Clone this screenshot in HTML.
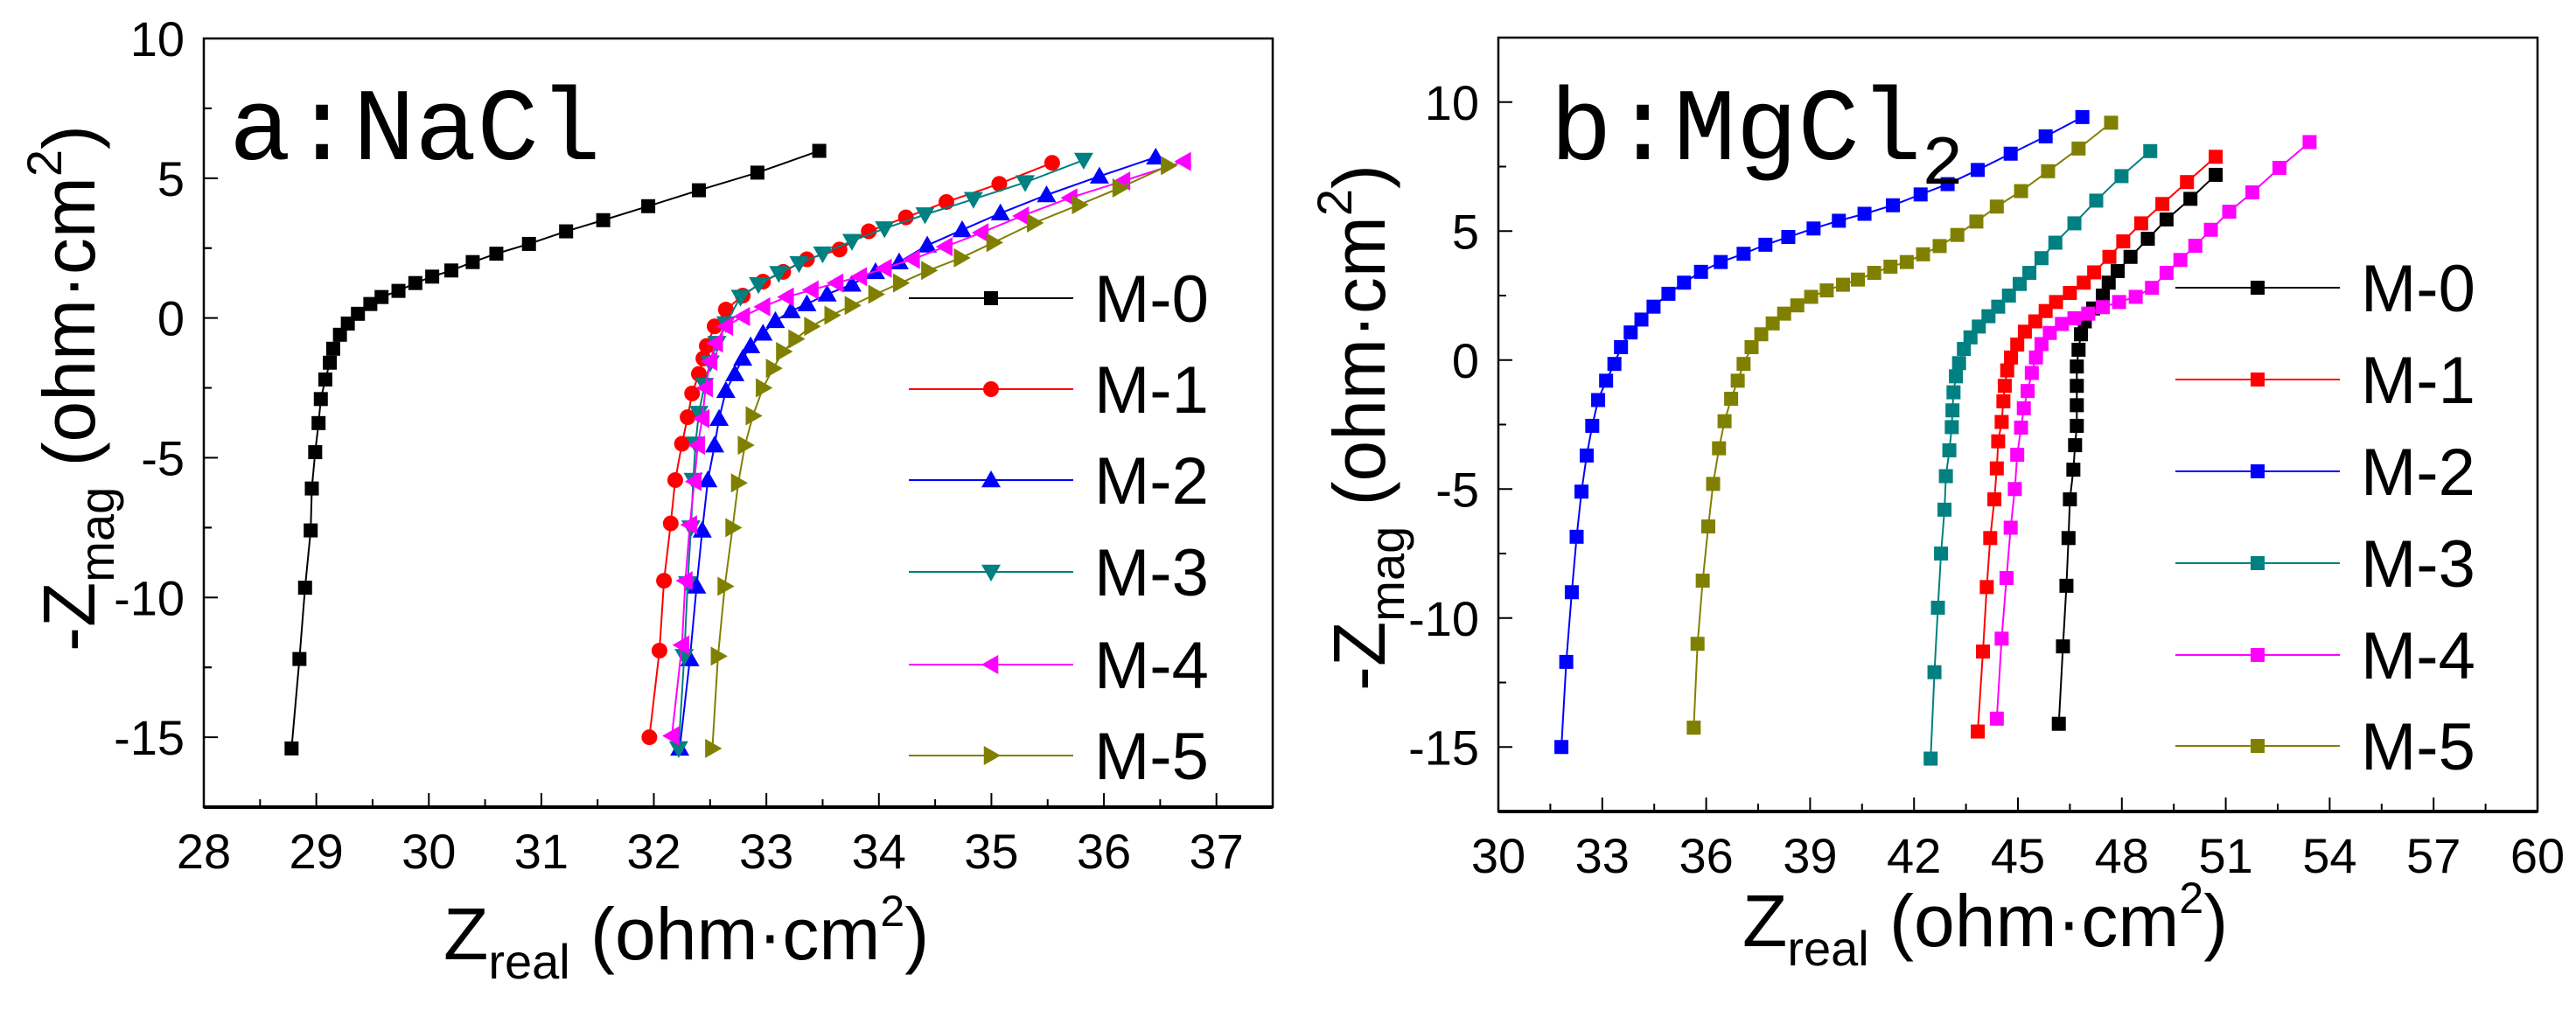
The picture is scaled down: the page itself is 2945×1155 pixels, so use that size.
<!DOCTYPE html>
<html><head><meta charset="utf-8"><style>
html,body{margin:0;padding:0;background:#fff;}
svg text{font-family:"Liberation Sans",Arial,sans-serif;}
</style></head><body>
<svg id="fig" xmlns="http://www.w3.org/2000/svg" width="2945" height="1150" viewBox="0 0 2945 1150">
<g id="pa"></g>
<g id="pb"></g>
</svg>
<script>
// ---- Panel a data (NaCl) ----
const aM0x=[28.78,28.85,28.9,28.95,28.96,28.99,29.02,29.04,29.08,29.12,29.15,29.21,29.28,29.37,29.48,29.58,29.73,29.88,30.03,30.2,30.39,30.6,30.89,31.22,31.55,31.95,32.4,32.92,33.47];
const aM0y=[-15.4,-12.2,-9.65,-7.6,-6.1,-4.8,-3.76,-2.9,-2.2,-1.6,-1.1,-0.6,-0.2,0.15,0.5,0.75,0.97,1.25,1.48,1.7,2.0,2.3,2.65,3.1,3.5,4.0,4.57,5.2,5.98];
const aM1x=[31.96,32.05,32.09,32.15,32.19,32.25,32.3,32.34,32.4,32.44,32.47,32.54,32.64,32.79,32.97,33.15,33.36,33.65,33.91,34.24,34.6,35.07,35.54];
const aM1y=[-15,-11.9,-9.4,-7.35,-5.8,-4.5,-3.55,-2.7,-2.0,-1.45,-1.0,-0.3,0.3,0.8,1.3,1.65,2.1,2.45,3.1,3.6,4.15,4.8,5.55];
const aM2x=[32.23,32.32,32.38,32.43,32.48,32.54,32.58,32.64,32.72,32.79,32.86,32.97,33.08,33.22,33.36,33.54,33.76,33.97,34.18,34.43,34.74,35.08,35.49,35.96,36.46];
const aM2y=[-15.4,-12.2,-9.6,-7.6,-5.8,-4.55,-3.6,-2.6,-2.0,-1.45,-1.0,-0.55,-0.1,0.25,0.5,0.85,1.2,1.65,2.0,2.6,3.15,3.75,4.4,5.07,5.75];
const aM3x=[32.22,32.27,32.3,32.33,32.35,32.37,32.4,32.45,32.5,32.56,32.64,32.77,32.93,33.11,33.29,33.5,33.76,34.05,34.41,34.84,35.3,35.82];
const aM3y=[-15.4,-12.1,-9.5,-7.5,-5.8,-4.5,-3.4,-2.4,-1.6,-0.9,-0.2,0.75,1.2,1.6,1.95,2.3,2.75,3.2,3.7,4.25,4.85,5.65];
const aM4x=[32.16,32.25,32.28,32.32,32.36,32.39,32.43,32.46,32.5,32.55,32.64,32.79,32.97,33.18,33.4,33.62,33.83,34.05,34.3,34.59,34.91,35.27,35.7,36.17,36.71];
const aM4y=[-14.95,-11.7,-9.4,-7.4,-5.85,-4.55,-3.6,-2.5,-1.55,-0.9,-0.3,0.05,0.4,0.75,1.0,1.25,1.48,1.78,2.1,2.55,3.05,3.65,4.3,4.9,5.6];
const aM5x=[32.52,32.57,32.63,32.7,32.75,32.81,32.88,32.97,33.06,33.15,33.26,33.4,33.58,33.76,33.97,34.19,34.44,34.73,35.02,35.38,35.78,36.14,36.57];
const aM5y=[-15.4,-12.1,-9.6,-7.5,-5.9,-4.55,-3.5,-2.5,-1.8,-1.2,-0.75,-0.3,0.1,0.45,0.85,1.25,1.7,2.15,2.7,3.4,4.05,4.65,5.45];
const aXTicks=[28,29,30,31,32,33,34,35,36,37];
const aYTicks=[10,5,0,-5,-10,-15];
// ---- Panel b data (MgCl2) ----
const bM0x=[46.18,46.3,46.4,46.46,46.5,46.6,46.65,46.7,46.7,46.7,46.7,46.75,46.82,46.93,47.17,47.45,47.62,47.88,48.25,48.75,49.29,49.98,50.71];
const bM0y=[-14.1,-11.1,-8.75,-6.9,-5.4,-4.25,-3.3,-2.55,-1.75,-1.0,-0.25,0.4,1.0,1.5,2.0,2.5,3.0,3.45,4.0,4.7,5.45,6.25,7.18];
const bM1x=[43.84,43.99,44.1,44.2,44.32,44.39,44.43,44.53,44.58,44.62,44.69,44.8,44.98,45.2,45.5,45.8,46.1,46.5,46.9,47.2,47.64,48.04,48.56,49.17,49.88,50.71];
const bM1y=[-14.4,-11.3,-8.8,-6.9,-5.4,-4.2,-3.15,-2.4,-1.6,-1.0,-0.4,0.1,0.6,1.1,1.5,1.9,2.25,2.6,3.0,3.4,4.0,4.6,5.3,6.05,6.9,7.88];
const bM2x=[31.82,31.96,32.12,32.26,32.4,32.55,32.71,32.88,33.11,33.35,33.54,33.82,34.13,34.48,34.91,35.36,35.85,36.42,37.08,37.71,38.37,39.1,39.83,40.57,41.39,42.19,42.97,43.84,44.79,45.8,46.86];
const bM2y=[-15,-11.7,-9.0,-6.85,-5.1,-3.7,-2.55,-1.55,-0.8,-0.15,0.5,1.07,1.57,2.07,2.57,3.0,3.42,3.8,4.12,4.47,4.77,5.1,5.4,5.67,6.0,6.42,6.82,7.37,8.0,8.67,9.42];
const bM3x=[42.48,42.59,42.69,42.78,42.88,42.92,43.02,43.09,43.11,43.14,43.21,43.3,43.44,43.63,43.87,44.15,44.43,44.74,45.05,45.33,45.68,46.08,46.63,47.26,47.99,48.82];
const bM3y=[-15.45,-12.1,-9.6,-7.5,-5.8,-4.5,-3.5,-2.6,-1.95,-1.25,-0.63,-0.12,0.43,0.88,1.3,1.7,2.07,2.5,2.95,3.38,3.95,4.55,5.3,6.18,7.13,8.1];
const bM4x=[44.39,44.53,44.67,44.79,44.91,44.98,45.09,45.17,45.28,45.4,45.52,45.68,45.92,46.27,46.63,47.03,47.45,47.92,48.4,48.87,49.29,49.69,50.12,50.57,51.1,51.77,52.55,53.42];
const bM4y=[-13.9,-10.8,-8.45,-6.5,-5.0,-3.67,-2.62,-1.87,-1.2,-0.5,0.1,0.62,1.05,1.4,1.62,1.8,2.05,2.25,2.45,2.8,3.38,3.88,4.43,5.05,5.75,6.5,7.45,8.45];
const bM5x=[35.64,35.75,35.9,36.06,36.2,36.37,36.53,36.72,36.91,37.08,37.31,37.59,37.92,38.25,38.63,39.03,39.48,39.95,40.38,40.85,41.32,41.79,42.26,42.74,43.25,43.8,44.39,45.09,45.87,46.75,47.69];
const bM5y=[-14.25,-11.0,-8.55,-6.45,-4.8,-3.42,-2.37,-1.5,-0.8,-0.15,0.5,1.0,1.42,1.8,2.12,2.45,2.7,2.92,3.12,3.38,3.62,3.8,4.1,4.42,4.85,5.37,5.95,6.55,7.32,8.2,9.2];
const bXTicks=[30,33,36,39,42,45,48,51,54,57,60];
const bYTicks=[10,5,0,-5,-10,-15];
const seriesNames=["M-0","M-1","M-2","M-3","M-4","M-5"];

const NS="http://www.w3.org/2000/svg";
function mk(parent,tag,attrs){const e=document.createElementNS(NS,tag);for(const k in attrs)e.setAttribute(k,attrs[k]);parent.appendChild(e);return e;}

function marker(g,shape,cx,cy,color){
  const s=8;let e;
  if(shape==="sq"){e=mk(g,"rect",{x:cx-s,y:cy-s,width:2*s,height:2*s,fill:color});}
  else if(shape==="ci"){e=mk(g,"circle",{cx:cx,cy:cy,r:s+1,fill:color});}
  else{let p;const r=s+3;
    if(shape==="up")p=[[cx,cy-r],[cx-r,cy+r*0.75],[cx+r,cy+r*0.75]];
    else if(shape==="dn")p=[[cx,cy+r],[cx-r,cy-r*0.75],[cx+r,cy-r*0.75]];
    else if(shape==="lt")p=[[cx-r,cy],[cx+r*0.75,cy-r],[cx+r*0.75,cy+r]];
    else p=[[cx+r,cy],[cx-r*0.75,cy-r],[cx-r*0.75,cy+r]];
    e=mk(g,"polygon",{points:p.map(q=>q.join(",")).join(" "),fill:color});}
  
  
}

function drawPanel(g,cfg){
  const X=v=>cfg.L+(v-cfg.x0)/(cfg.x1-cfg.x0)*(cfg.R-cfg.L);
  const Y=v=>cfg.B-(v-cfg.y0)/(cfg.y1-cfg.y0)*(cfg.B-cfg.T);
  // frame
  const fr=mk(g,"rect",{x:cfg.L,y:cfg.T,width:cfg.R-cfg.L,height:cfg.B-cfg.T,fill:"none",stroke:"#000","stroke-width":2.5});
  
  
  mk(g,"line",{x1:cfg.L,y1:cfg.B,x2:cfg.R,y2:cfg.B,stroke:"#000","stroke-width":4});
  // x ticks
  const xt=mk(g,"g",{});
  
  
  cfg.xt.forEach((v,i)=>{
    const x=X(v);
    mk(xt,"line",{x1:x,y1:cfg.B,x2:x,y2:cfg.B-16,stroke:"#000","stroke-width":2});
    if(i<cfg.xt.length-1){const xm=X(v+cfg.xstep/2);mk(xt,"line",{x1:xm,y1:cfg.B,x2:xm,y2:cfg.B-9,stroke:"#000","stroke-width":2});}
    const t=mk(xt,"text",{x:x,y:cfg.B+70,"font-size":56,"text-anchor":"middle"});t.textContent=v;
    
    
  });
  const yt=mk(g,"g",{});
  
  
  cfg.yt.forEach(v=>{
    const y=Y(v);
    mk(yt,"line",{x1:cfg.L,y1:y,x2:cfg.L+16,y2:y,stroke:"#000","stroke-width":2});
    [v-2.5,v+2.5].forEach(m=>{if(m>cfg.y0&&m<cfg.y1&&!(m>v&&cfg.yt.includes(m-0))){const ym=Y(m);mk(yt,"line",{x1:cfg.L,y1:ym,x2:cfg.L+9,y2:ym,stroke:"#000","stroke-width":2});}});
    const t=mk(yt,"text",{x:cfg.L-22,y:y+20,"font-size":56,"text-anchor":"end"});t.textContent=v;
    
    
  });
  // series
  cfg.series.forEach((s,i)=>{
    const sg=mk(g,"g",{});
    
    
    const pts=s.x.map((v,k)=>X(v)+","+Y(s.y[k])).join(" ");
    mk(sg,"polyline",{points:pts,fill:"none",stroke:s.c,"stroke-width":2});
    s.x.forEach((v,k)=>marker(sg,s.m,X(v),Y(s.y[k]),s.c));
  });
  // legend
  const lg=mk(g,"g",{});
  
  
  cfg.series.forEach((s,i)=>{
    const y=cfg.legY[i];
    const le=mk(lg,"g",{});
    
    
    mk(le,"line",{x1:cfg.legX,y1:y,x2:cfg.legX+188,y2:y,stroke:s.c,"stroke-width":2});
    marker(le,s.m,cfg.legX+94,y,s.c);
    const t=mk(le,"text",{x:cfg.legX+212,y:y+27,"font-size":76});t.textContent=seriesNames[i];
  });
}

const colors=["#000000","#ff0000","#0000ff","#008080","#ff00ff","#808000"];
drawPanel(document.getElementById("pa"),{L:233,R:1455,T:44,B:923,x0:28,x1:37.5,y0:-17.5,y1:10,xt:aXTicks,yt:aYTicks,xstep:1,
  legX:1039,legY:[341,445,549,654,760,864],
  series:[{x:aM0x,y:aM0y,c:colors[0],m:"sq"},{x:aM1x,y:aM1y,c:colors[1],m:"ci"},{x:aM2x,y:aM2y,c:colors[2],m:"up"},
          {x:aM3x,y:aM3y,c:colors[3],m:"dn"},{x:aM4x,y:aM4y,c:colors[4],m:"lt"},{x:aM5x,y:aM5y,c:colors[5],m:"rt"}]});
drawPanel(document.getElementById("pb"),{L:1713,R:2901,T:43,B:928,x0:30,x1:60,y0:-17.5,y1:12.5,xt:bXTicks,yt:bYTicks,xstep:3,
  legX:2487,legY:[329,434,539,644,749,853],
  series:[{x:bM0x,y:bM0y,c:colors[0],m:"sq"},{x:bM1x,y:bM1y,c:colors[1],m:"sq"},{x:bM2x,y:bM2y,c:colors[2],m:"sq"},
          {x:bM3x,y:bM3y,c:colors[3],m:"sq"},{x:bM4x,y:bM4y,c:colors[4],m:"sq"},{x:bM5x,y:bM5y,c:colors[5],m:"sq"}]});
</script>
<svg style="position:absolute;left:0;top:0" width="2945" height="1150">
<text x="262" y="182" font-size="118" style="font-family:'Liberation Mono','Liberation Serif',serif">a:NaCl</text>
<text x="1772" y="182" font-size="118" style="font-family:'Liberation Mono','Liberation Serif',serif">b:MgCl<tspan font-size="80" dy="28">2</tspan></text>
<text x="507" y="1097" font-size="84" style="font-family:'Liberation Sans',sans-serif">Z<tspan font-size="56" dy="22">real</tspan><tspan dy="-22"> (ohm·cm</tspan><tspan font-size="50" dy="-38">2</tspan><tspan dy="38">)</tspan></text>
<text x="1992" y="1082" font-size="84" style="font-family:'Liberation Sans',sans-serif">Z<tspan font-size="56" dy="22">real</tspan><tspan dy="-22"> (ohm·cm</tspan><tspan font-size="50" dy="-38">2</tspan><tspan dy="38">)</tspan></text>
<text transform="translate(108,745) rotate(-90)" font-size="84" style="font-family:'Liberation Sans',sans-serif">-Z<tspan font-size="56" dy="22">mag</tspan><tspan dy="-22"> (ohm·cm</tspan><tspan font-size="56" dy="-38">2</tspan><tspan dy="38">)</tspan></text>
<text transform="translate(1583,790) rotate(-90)" font-size="84" style="font-family:'Liberation Sans',sans-serif">-Z<tspan font-size="56" dy="22">mag</tspan><tspan dy="-22"> (ohm·cm</tspan><tspan font-size="56" dy="-38">2</tspan><tspan dy="38">)</tspan></text>
</svg>
</body></html>
